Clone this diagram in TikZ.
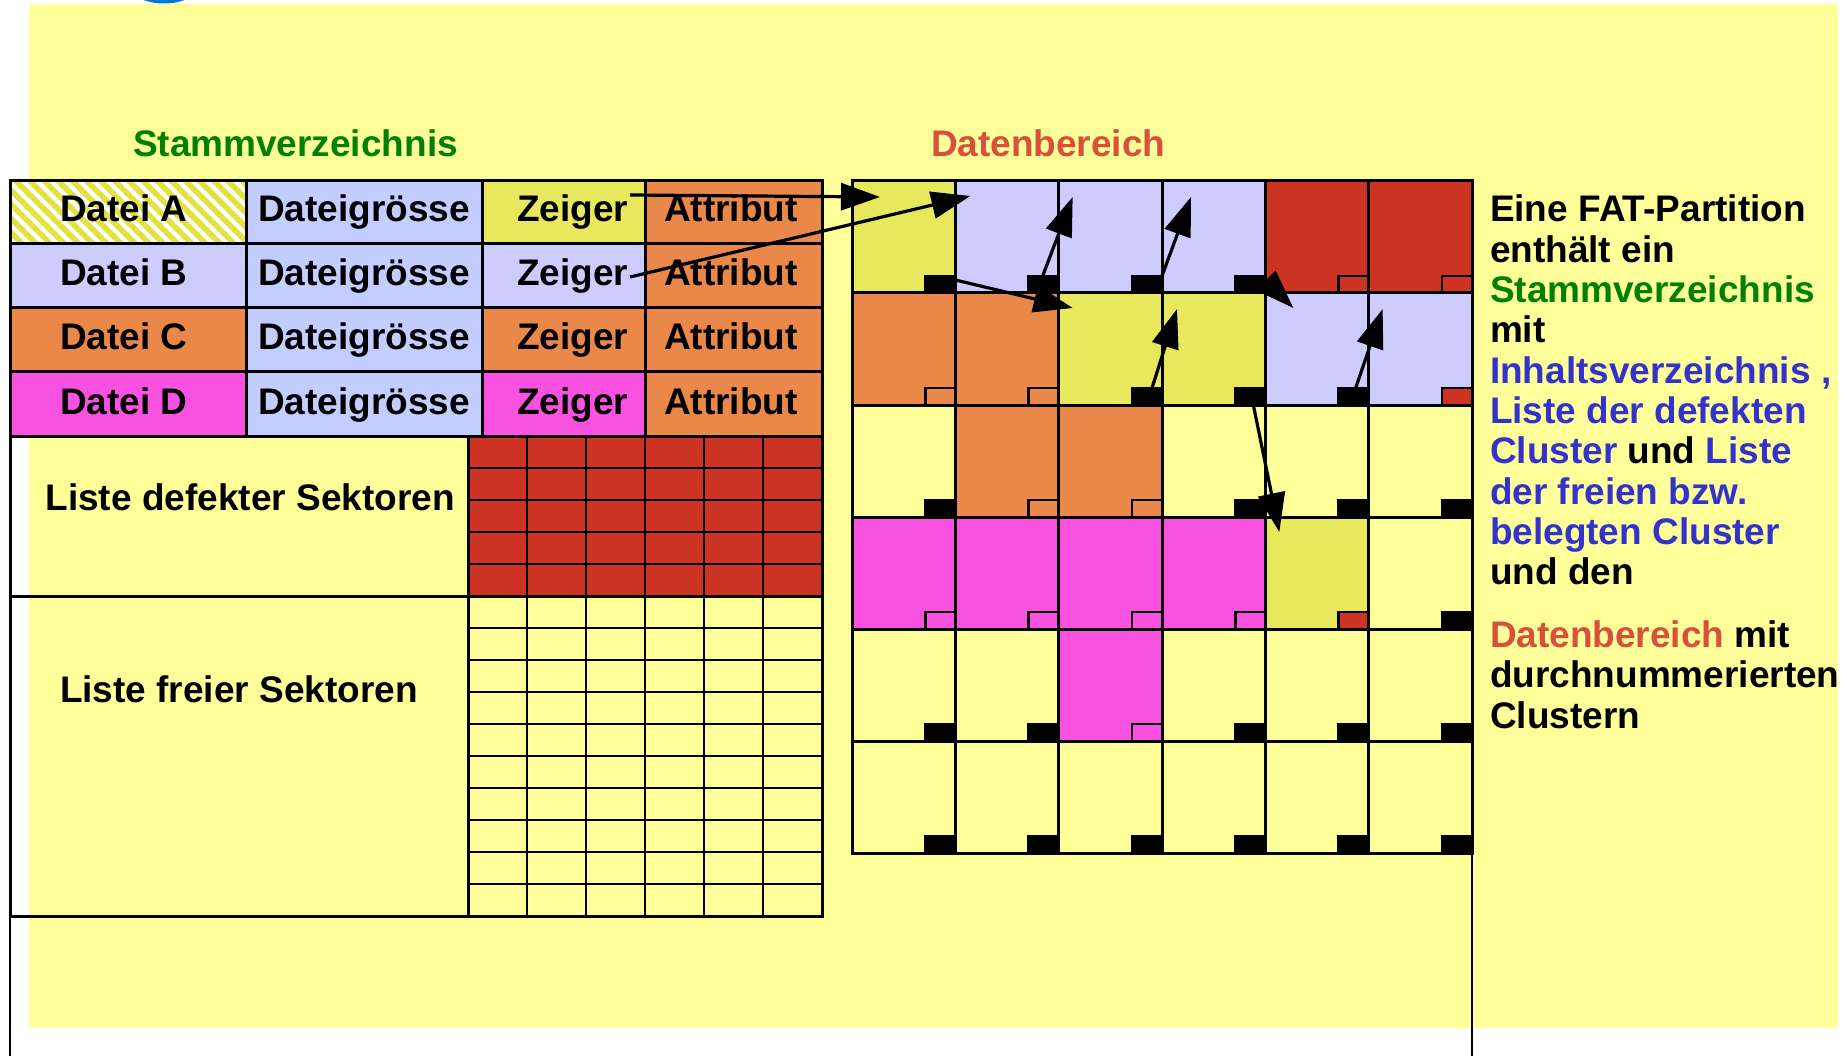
\documentclass[tikz,border=0pt]{standalone}
\usepackage{fontspec}
\setmainfont{Liberation Sans}
\usetikzlibrary{arrows.meta,patterns.meta,calc}

\definecolor{bgyellow}{RGB}{255,255,153}
\definecolor{fileA}{RGB}{232,232,92}
\definecolor{hatchA}{RGB}{226,226,60}
\definecolor{lav}{RGB}{204,204,255}
\definecolor{sizeblue}{RGB}{195,205,255}
\definecolor{fileC}{RGB}{233,136,72}
\definecolor{fileD}{RGB}{249,82,224}
\definecolor{badred}{RGB}{204,51,34}
\definecolor{dirgreen}{RGB}{0,128,0}
\definecolor{listblue}{RGB}{51,51,204}
\definecolor{datared}{RGB}{217,79,57}
\definecolor{logoblue}{RGB}{0,120,212}

\begin{document}
\begin{tikzpicture}[x=1pt,y=-1pt,
  txt/.style={font=\bfseries\fontsize{37}{40}\selectfont, inner sep=0pt, outer sep=0pt, anchor=base west},
  tableline/.style={line width=3pt, line cap=rect},
  minigrid/.style={line width=2.5pt, line cap=rect},
  gridline/.style={line width=3pt, line cap=rect},
  frameline/.style={line width=2pt},
  cell/.style={rectangle, inner sep=0pt, outer sep=0pt, draw=none,
    minimum width=103.333pt, minimum height=112pt},
  fat/.style={rectangle, draw=black, line width=2.5pt, inner sep=0pt, outer sep=0pt,
    minimum width=30pt, minimum height=17pt},
  ptr/.style={line width=3.2pt, -{Triangle[length=39pt,width=27pt]}}]

\useasboundingbox (0,0) rectangle (1847,1056);
\fill[white] (0,0) rectangle (1847,1056);

% logo remnant at the top edge
\begin{scope}
  \clip (0,0) rectangle (1847,1056);
  \fill[logoblue] (164,-14) ellipse [x radius=34, y radius=17.5];
\end{scope}

% slide background
\fill[bgyellow] (29,4) rectangle (1838,1028);

% ---------- root directory table ----------
\fill[white] (10,181) rectangle (246,244);
\fill[pattern={Lines[angle=-45,distance=10pt,line width=5.5pt]}, pattern color=hatchA]
  (10,181) rectangle (246,244);
\fill[lav]   (10,244) rectangle (246,308);
\fill[fileC] (10,308) rectangle (246,372);
\fill[fileD] (10,372) rectangle (246,436);
\fill[sizeblue] (246,181) rectangle (482,436);
\fill[fileA] (482,181) rectangle (645,244);
\fill[lav]   (482,244) rectangle (645,308);
\fill[fileC] (482,308) rectangle (645,372);
\fill[fileD] (482,372) rectangle (645,436);
\fill[fileC] (645,181) rectangle (822,436);

% bad / free sector lists
\fill[badred] (468,436) rectangle (822,596);
\foreach \k in {1,...,5}
  \draw[minigrid] ({468+59*\k},436) -- ({468+59*\k},916);
\foreach \k in {1,...,14}
  \draw[minigrid] (468,{436+32*\k}) -- (822,{436+32*\k});

\draw[tableline] (10,181) rectangle (822,916);
\foreach \yy in {244,308,372,436,596}
  \draw[tableline] (10,\yy) -- (822,\yy);
\foreach \xx in {246,482,645}
  \draw[tableline] (\xx,181) -- (\xx,436);
\draw[tableline] (468,436) -- (468,916);

% outer frame lines
\draw[frameline] (10,916) -- (10,1056);
\draw[frameline] (1472,853) -- (1472,1056);

% table texts
\node[txt] (dA) at (60,222) {Datei A};
\node[txt] (dB) at (60,286) {Datei B};
\node[txt] (dC) at (60,350) {Datei C};
\node[txt] (dD) at (60,414) {Datei D};
\foreach \n/\yy in {A/222,B/286,C/350,D/414} {
  \node[txt] (g\n) at (258,\yy) {Dateigrösse};
  \node[txt] (z\n) at (517,\yy) {Zeiger};
  \node[txt] (t\n) at (664,\yy) {Attribut};
}
\node[txt] (bad) at (45.5,510.5) {Liste defekter Sektoren};
\node[txt] (free) at (60,702.5) {Liste freier Sektoren};

% headings
\node[txt, text=dirgreen] (hdir) at (133,157) {Stammverzeichnis};
\node[txt, text=datared] (hdata) at (931,157) {Datenbereich};

% ---------- data area: clusters with FAT entries ----------
\foreach \r/\cells in {
  0/{fileA/black,lav/black,lav/black,lav/black,badred/badred,badred/badred},
  1/{fileC/fileC,fileC/fileC,fileA/black,fileA/black,lav/black,lav/badred},
  2/{bgyellow/black,fileC/fileC,fileC/fileC,bgyellow/black,bgyellow/black,bgyellow/black},
  3/{fileD/fileD,fileD/fileD,fileD/fileD,fileD/fileD,fileA/badred,bgyellow/black},
  4/{bgyellow/black,bgyellow/black,fileD/fileD,bgyellow/black,bgyellow/black,bgyellow/black},
  5/{bgyellow/black,bgyellow/black,bgyellow/black,bgyellow/black,bgyellow/black,bgyellow/black}}
{
  \foreach \fc/\sc [count=\ci from 0] in \cells {
    \node[cell, fill=\fc] (c-\r-\ci) at ({903.667+103.333*\ci},{237+112*\r}) {};
    \node[fat, fill=\sc, anchor=south east] (f-\r-\ci) at (c-\r-\ci.south east) {};
  }
}
\foreach \i in {0,...,6} {
  \draw[gridline] ({852+103.333*\i},181) -- ({852+103.333*\i},853);
  \draw[gridline] (852,{181+112*\i}) -- (1472,{181+112*\i});
}

% ---------- pointers and cluster chains ----------
\draw[ptr] ($(zA.base east)+(2,-27)$) -- ($(c-0-0.north west)+(28,16)$);
\draw[ptr] ($(zB.base east)+(2,-9)$) -- ($(c-0-1.north west)+(15,15)$);
\draw[ptr] ($(f-0-0.north east)+(0,4)$) -- ($(c-1-2.north west)+(14,15)$);
\draw[ptr] ($(f-0-1.north)+(-1,0)$) -- ($(c-0-2.north west)+(14,16)$);
\draw[ptr] (f-0-2.north east) -- ($(c-0-3.north west)+(29,16)$);
\draw[ptr] ($(f-0-3.north east)+(0,4)$) -- ($(c-1-4.north west)+(28,15)$);
\draw[ptr] ($(f-1-4.north)+(2,0)$) -- ($(c-1-5.north west)+(14,16)$);
\draw[ptr] ($(f-1-2.north)+(5,0)$) -- ($(c-1-3.north west)+(15,16)$);
\draw[ptr] ($(f-1-3.south)+(3,0)$) -- ($(c-3-4.north west)+(14,15)$);

% ---------- explanation ----------
\node[txt] (r1) at (1490,222) {Eine FAT-Partition};
\node[txt] (r2) at (1490,262.3) {enthält ein};
\node[txt, text=dirgreen] (r3) at (1490,302.6) {Stammverzeichnis};
\node[txt] (r4) at (1490,342.9) {mit};
\node[txt, text=listblue] (r5) at (1490,383.2) {Inhaltsverzeichnis ,};
\node[txt, text=listblue] (r6) at (1490,423.5) {Liste der defekten};
\node[txt] (r7) at (1490,463.8) {\textcolor{listblue}{Cluster} und \textcolor{listblue}{Liste}};
\node[txt, text=listblue] (r8) at (1490,504.1) {der freien bzw.};
\node[txt, text=listblue] (r9) at (1490,544.4) {belegten Cluster};
\node[txt] (r10) at (1490,584.7) {und den};
\node[txt] (r11) at (1490,647.5) {\textcolor{datared}{Datenbereich} mit};
\node[txt] (r12) at (1490,687.8) {durchnummerierten};
\node[txt] (r13) at (1490,728) {Clustern};

\end{tikzpicture}
\end{document}
